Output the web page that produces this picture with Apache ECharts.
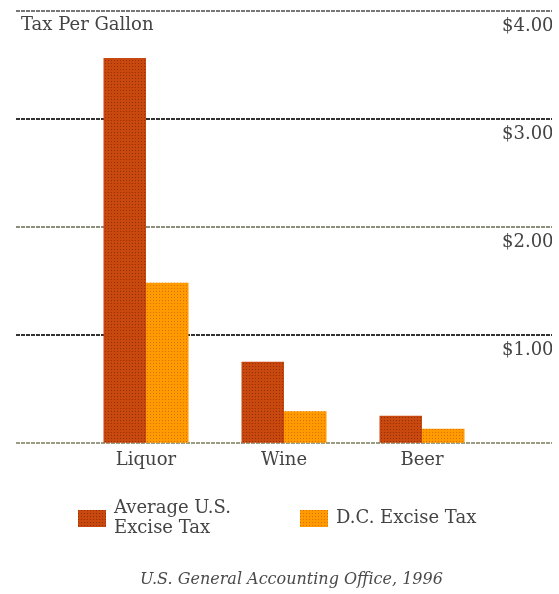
<!DOCTYPE html>
<html>
<head>
<meta charset="utf-8">
<script src="https://cdn.jsdelivr.net/npm/echarts@6/dist/echarts.min.js"></script>
<style>
  html, body { margin: 0; padding: 0; background: #fff; }
  #chart { width: 552px; height: 594px; overflow: hidden; }
</style>
</head>
<body>
<div id="chart"></div>
<script>
// Excise tax per gallon by beverage type
const categories = ['Liquor', 'Wine', 'Beer'];
const averageUS = [3.56, 0.75, 0.25];
const dcExcise = [1.48, 0.29, 0.13];
const tickLabels = ['', '$1.00', '$2.00', '$3.00', '$4.00'];
const seriesNames = ['Average U.S.\nExcise Tax', 'D.C. Excise Tax'];

const serif = '"DejaVu Serif", "Liberation Serif", serif';
const textColor = '#444444';

const chart = echarts.init(document.getElementById('chart'), null, { renderer: 'canvas' });

const plotTop = 10.5;
const plotBottom = 151.3;

chart.setOption({
  animation: false,
  backgroundColor: '#ffffff',
  title: [
    {
      text: 'Tax Per Gallon',
      left: 21, top: 16,
      padding: 0,
      textStyle: { fontFamily: serif, fontSize: 18, fontWeight: 'normal', color: textColor }
    },
    {
      text: 'U.S. General Accounting Office, 1996',
      left: 140, top: 572,
      padding: 0,
      textStyle: { fontFamily: serif, fontSize: 16, fontStyle: 'italic', fontWeight: 'normal', color: '#4a4a4a' }
    }
  ],
  legend: [
    {
      data: [seriesNames[0]],
      left: 78, top: 488.5,
      padding: 0,
      itemWidth: 28, itemHeight: 17,
      icon: 'rect',
      textStyle: { fontFamily: serif, fontSize: 18, color: textColor, lineHeight: 20, padding: [20, 0, 0, 3] }
    },
    {
      data: [seriesNames[1]],
      left: 300, top: 509.5,
      padding: 0,
      itemWidth: 28, itemHeight: 17,
      icon: 'rect',
      textStyle: { fontFamily: serif, fontSize: 18, color: textColor, padding: [0, 0, 0, 3] }
    }
  ],
  grid: [
    // bar area
    { left: 77, right: 61, top: plotTop, bottom: plotBottom },
    // full-width rules and right-hand dollar labels
    { left: 16, right: -20, top: plotTop, bottom: plotBottom }
  ],
  xAxis: [
    {
      type: 'category', gridIndex: 0, data: categories,
      axisLine: { show: false }, axisTick: { show: false },
      axisLabel: { fontFamily: serif, fontSize: 18, color: textColor, margin: 9 }
    },
    {
      type: 'category', gridIndex: 1, data: [''],
      show: false
    }
  ],
  yAxis: [
    {
      type: 'value', gridIndex: 0, min: 0, max: 4, interval: 1,
      show: false
    },
    {
      type: 'value', gridIndex: 1, min: 0, max: 4, interval: 1,
      position: 'left',
      axisLine: { show: false }, axisTick: { show: false },
      axisLabel: {
        align: 'left', verticalAlign: 'top', margin: -486,
        padding: [7, 0, 0, 0],
        fontFamily: serif, fontSize: 18, color: textColor,
        formatter: (v) => tickLabels[Math.round(v)]
      },
      splitLine: {
        show: true,
        lineStyle: {
          width: 2,
          type: [4, 1],
          color: ['#9c9c84', '#333333', '#8e8e7c', '#333333', '#777777']
        }
      }
    }
  ],
  series: [
    {
      name: seriesNames[0], type: 'bar', xAxisIndex: 0, yAxisIndex: 0,
      data: averageUS, barWidth: 42.5, barGap: '0%',
      itemStyle: {
        color: '#c9480e',
        decal: { symbol: 'rect', symbolSize: 1, dashArrayX: [1, 2], dashArrayY: [1, 2], color: 'rgba(110,30,0,0.6)' }
      }
    },
    {
      name: seriesNames[1], type: 'bar', xAxisIndex: 0, yAxisIndex: 0,
      data: dcExcise, barWidth: 42.5, barGap: '0%',
      itemStyle: {
        color: '#ff9a00',
        decal: { symbol: 'rect', symbolSize: 1, dashArrayX: [1, 2], dashArrayY: [1, 2], color: 'rgba(200,90,0,0.65)' }
      }
    }
  ]
});
</script>
</body>
</html>
